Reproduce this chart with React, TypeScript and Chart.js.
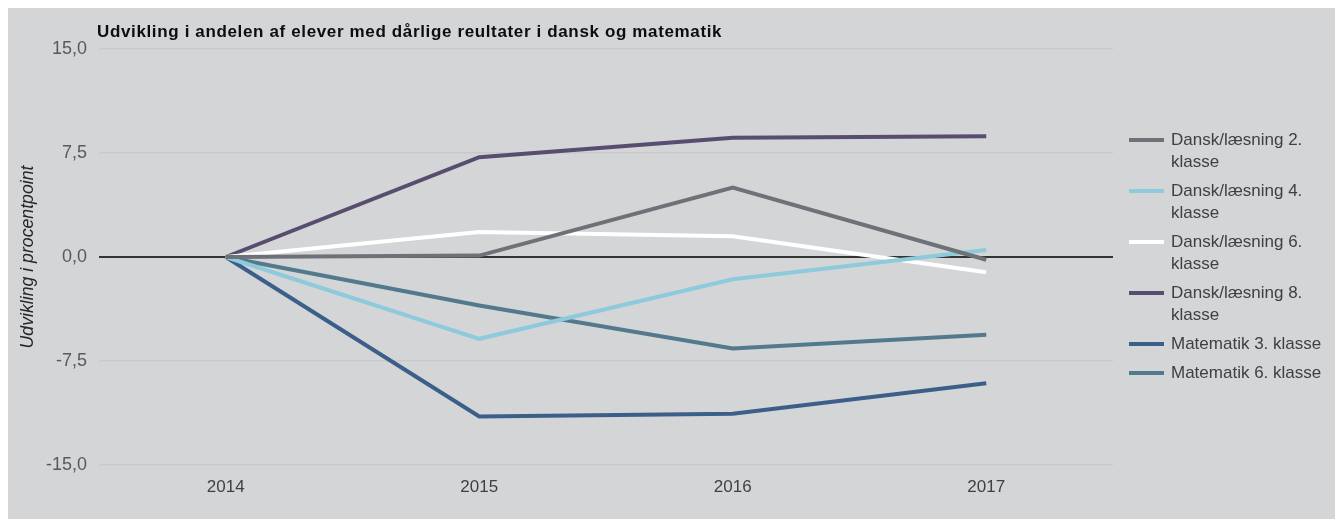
import React, { useEffect, useRef } from "react";
import { Chart, registerables } from "chart.js";

Chart.register(...registerables);

const years = ["2014", "2015", "2016", "2017"];
const dansk2 = [0, 0.1, 5.0, -0.2];
const dansk4 = [0, -5.9, -1.6, 0.5];
const dansk6 = [0, 1.8, 1.5, -1.1];
const dansk8 = [0, 7.2, 8.6, 8.7];
const mat3 = [0, -11.5, -11.3, -9.1];
const mat6 = [0, -3.5, -6.6, -5.6];

const seriesNames = [
  "Dansk/læsning 2. klasse",
  "Dansk/læsning 4. klasse",
  "Dansk/læsning 6. klasse",
  "Dansk/læsning 8. klasse",
  "Matematik 3. klasse",
  "Matematik 6. klasse",
];
const seriesValues = [dansk2, dansk4, dansk6, dansk8, mat3, mat6];
const seriesColors = ["#6d7278", "#8ccadc", "#ffffff", "#574d6f", "#3c5f8a", "#527a8c"];

const title = "Udvikling i andelen af elever med dårlige reultater i dansk og matematik";
const yTitle = "Udvikling i procentpoint";

const FONT = "'Liberation Sans', Arial, Helvetica, sans-serif";
const BG = "#d4d5d7";

export default function App() {
  const ref = useRef<HTMLCanvasElement | null>(null);

  useEffect(() => {
    if (!ref.current) return;
    const chart = new Chart(ref.current, {
      type: "line",
      data: {
        labels: years,
        datasets: seriesNames.map((n, i) => ({
          label: n,
          data: seriesValues[i],
          borderColor: seriesColors[i],
          backgroundColor: seriesColors[i],
          borderWidth: 4,
          pointRadius: 0,
          tension: 0,
        })),
      },
      options: {
        animation: false,
        responsive: false,
        maintainAspectRatio: false,
        layout: { padding: { top: 41, right: 230, bottom: 10, left: 0 } },
        plugins: {
          legend: { display: false },
          tooltip: { enabled: false },
          title: { display: false },
        },
        scales: {
          x: {
            offset: true,
            grid: { display: false, drawTicks: false },
            border: { display: false },
            ticks: { color: "#404040", font: { family: FONT, size: 17 }, padding: 12 },
            afterFit: (s: any) => {
              s.height = 44;
            },
          },
          y: {
            min: -15,
            max: 15,
            grid: {
              drawTicks: false,
              color: (c: any) => (c.tick && c.tick.value === 0 ? "#333333" : "#c8c9cb"),
              lineWidth: (c: any) => (c.tick && c.tick.value === 0 ? 2 : 1.5),
            },
            border: { display: false },
            ticks: {
              stepSize: 7.5,
              color: "#595959",
              font: { family: FONT, size: 18 },
              padding: 12,
              callback: (v: any) => Number(v).toFixed(1).replace(".", ","),
            },
            title: {
              display: true,
              text: yTitle,
              color: "#262626",
              font: { family: FONT, size: 17.7, style: "italic" },
              padding: { top: 9, bottom: 0 },
            },
            afterFit: (s: any) => {
              s.width = 91;
            },
          },
        },
      },
    });
    return () => chart.destroy();
  }, []);

  return (
    <div style={{ position: "relative", width: 1335, height: 511, background: BG, fontFamily: FONT }}>
      <canvas ref={ref} width={1335} height={511} style={{ display: "block" }} />
      <div
        style={{
          position: "absolute",
          left: 89,
          top: 14,
          fontSize: 17,
          fontWeight: "bold",
          letterSpacing: "0.64px",
          color: "#0d0d0d",
          whiteSpace: "nowrap",
          lineHeight: "20px",
        }}
      >
        {title}
      </div>
      <div style={{ position: "absolute", left: 1121, top: 121, width: 214 }}>
        {seriesNames.map((n, i) => (
          <div key={n} style={{ display: "flex", alignItems: "flex-start", marginBottom: 7 }}>
            <div
              style={{
                width: 35,
                height: 4,
                background: seriesColors[i],
                marginTop: 9,
                marginRight: 7,
                flex: "none",
              }}
            />
            <div style={{ width: 160, fontSize: 17, lineHeight: "22px", color: "#404040" }}>{n}</div>
          </div>
        ))}
      </div>
    </div>
  );
}
